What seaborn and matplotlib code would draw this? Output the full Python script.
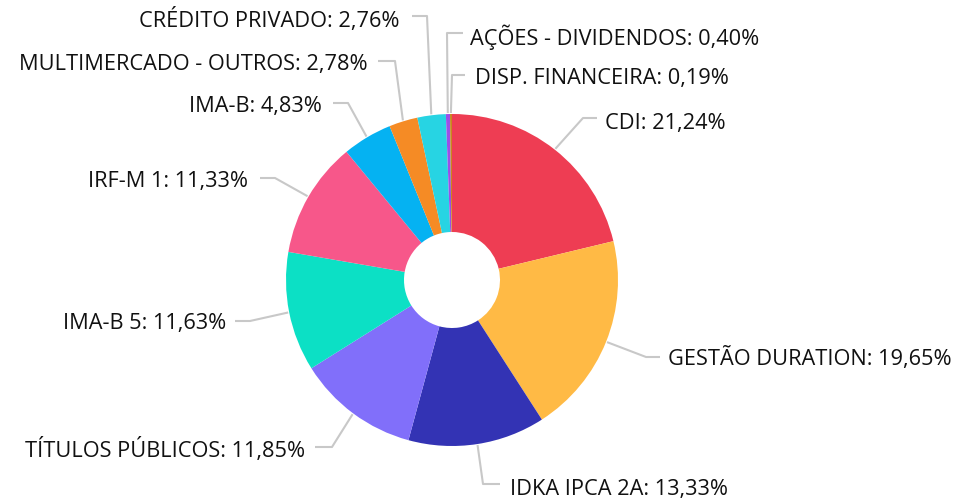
import numpy as np
import matplotlib
matplotlib.use("Agg")
import matplotlib.pyplot as plt
import seaborn as sns

sns.set_theme(style="white")
plt.rcParams["font.family"] = ["Open Sans", "DejaVu Sans"]

# data (clockwise from 12 o'clock)
categories = ["CDI", "GESTÃO DURATION", "IDKA IPCA 2A", "TÍTULOS PÚBLICOS", "IMA-B 5",
              "IRF-M 1", "IMA-B", "MULTIMERCADO - OUTROS", "CRÉDITO PRIVADO",
              "AÇÕES - DIVIDENDOS", "DISP. FINANCEIRA"]
shares = [21.24, 19.65, 13.33, 11.85, 11.63, 11.33, 4.83, 2.78, 2.76, 0.40, 0.19]
colors = ["#EE3D53", "#FFBA45", "#3333B4", "#816FFA", "#0CE0C5", "#F7578A",
          "#05B2F2", "#F58B25", "#27D4E3", "#9B4FE8", "#C8861E"]

# label layout in pixels (y measured from top): elbow, line end, text position
elbows = [(583, 118), (646, 357), (483, 484), (332, 447), (250, 321), (275, 178),
          (348, 103), (395, 61), (427, 16), (447, 33), (452, 75)]
line_ends = [597, 660, 500, 315, 235, 260, 333, 378, 412, 463, 465]
text_pos = [(605, 123), (668, 359), (510, 489), (305, 450), (226, 324), (248, 181),
            (322, 106), (368, 64), (400, 20), (470, 37), (475, 78)]
align = ["left", "left", "left", "right", "right", "right", "right", "right",
         "right", "left", "left"]

W, H = 956, 501
cx, cy, r_out, r_in = 452, 280, 166, 48

fig = plt.figure(figsize=(W / 100, H / 100), dpi=100)
ax = fig.add_axes([0, 0, 1, 1])
ax.pie(shares, colors=colors, startangle=90, counterclock=False,
       center=(cx, H - cy), radius=r_out,
       wedgeprops=dict(width=r_out - r_in, linewidth=0))
ax.set_xlim(0, W)
ax.set_ylim(0, H)
ax.set_aspect("equal")
ax.axis("off")

cum = np.cumsum([0] + shares[:-1])
for i, name in enumerate(categories):
    mid = np.deg2rad(90 - 360 * (cum[i] + shares[i] / 2) / 100)
    ax0 = cx + (r_out + 1) * np.cos(mid)
    ay0 = H - (cy - (r_out + 1) * np.sin(mid))
    ex, ey = elbows[i]
    xs = [ax0, ex, line_ends[i]]
    ys = [ay0, H - ey, H - ey]
    ax.plot(xs, ys, color="#C8C8C8", lw=1.5, solid_capstyle="butt")
    tx, ty = text_pos[i]
    pct = f"{shares[i]:.2f}".replace(".", ",")
    ax.text(tx, H - ty, f"{name}: {pct}%", ha=align[i], va="center",
            fontsize=15.7, color="#111111")

fig.savefig("out.png", dpi=100)
